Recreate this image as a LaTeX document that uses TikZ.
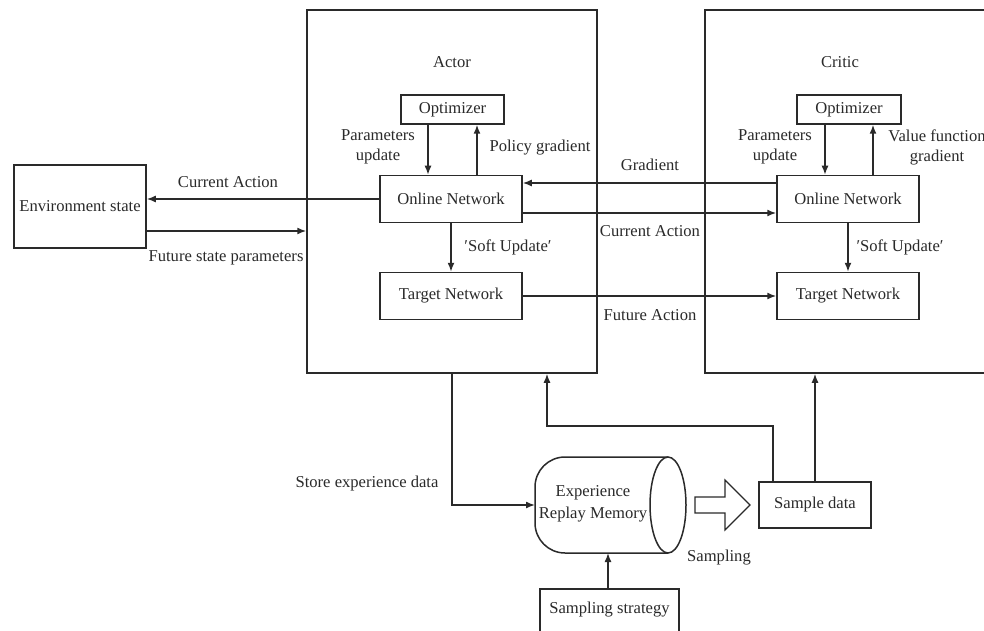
\documentclass[tikz,border=0pt]{standalone}
\usepackage{fontspec}
\setmainfont{Liberation Serif}
\usetikzlibrary{arrows.meta}
\definecolor{ink}{HTML}{2A2A2A}
\tikzset{
  every node/.style={font=\fontsize{16.6}{20}\selectfont, text=ink},
  box/.style={draw=ink, line width=1.5pt, inner sep=0pt},
  lbl/.style={align=center, inner sep=0pt},
  conn/.style={draw=ink, line width=1.5pt},
  arr/.style={conn, -{Latex[length=9pt,width=7pt]}},
}
\begin{document}
\begin{tikzpicture}[x=1pt, y=-1pt]
\useasboundingbox (0,0) rectangle (984,631);
\clip (0,0) rectangle (984,631);
\fill[white] (0,0) rectangle (984,631);

% outer frames
\node[box, minimum width=290pt, minimum height=363pt] (actor) at (452,191.5) {};
\node[box, minimum width=300pt, minimum height=363pt] (critic) at (855,191.5) {};

\node[lbl] at (452,62) {Actor};
\node[lbl] at (840,62) {Critic};

% environment
\node[box, minimum width=132pt, minimum height=83pt] (env) at (80,206.5) {Environment state};

% actor internals
\node[box, minimum width=103pt, minimum height=29pt] (aopt) at (452.5,109.5) {Optimizer};
\node[box, minimum width=142pt, minimum height=47pt] (aon) at (451,199) {Online Network};
\node[box, minimum width=142pt, minimum height=47pt] (atg) at (451,296) {Target Network};

% critic internals
\node[box, minimum width=104pt, minimum height=29pt] (copt) at (849,109.5) {Optimizer};
\node[box, minimum width=142pt, minimum height=47pt] (con) at (848,199) {Online Network};
\node[box, minimum width=142pt, minimum height=47pt] (ctg) at (848,296) {Target Network};

% lower part
\node[box, minimum width=112pt, minimum height=46pt] (sd) at (815,505) {Sample data};
\node[box, minimum width=139pt, minimum height=56pt] (ss) at (609.5,617) {};
\node[lbl] at (609.5,610) {Sampling strategy};

% replay memory drum
\coordinate (memw) at (535,505);
\coordinate (mems) at (608,553);
\draw[conn, rounded corners=30pt] (668,457) -- (535,457) -- (535,553) -- (668,553);
\draw[conn, fill=white] (668,505) ellipse [x radius=18pt, y radius=48pt];
\node[lbl, font=\fontsize{16.6}{22}\selectfont] at (593,504) {Experience\\Replay Memory};

% hollow sampling arrow
\draw[conn, line width=1.2pt, line join=miter] (695,497) -- (725,497) -- (725,480) -- (750,505)
  -- (725,530) -- (725,513) -- (695,513) -- cycle;
\node[lbl] at (719,558) {Sampling};

% environment links
\draw[arr] (aon.west) -- (aon.west -| env.east);
\draw[arr] (env.east |- 0,231) -- (actor.west |- 0,231);
\node[lbl] at (228,182) {Current Action};
\node[lbl] at (226,258) {Future state parameters};

% actor optimizer loop
\draw[arr] (aopt.south -| 428,0) -- (aon.north -| 428,0);
\draw[arr] (aon.north -| 477,0) -- (aopt.south -| 477,0);
\node[lbl] at (378,147) {Parameters\\update};
\node[lbl] at (540,148) {Policy gradient};
\draw[arr] (aon.south) -- (atg.north);
\node[lbl] at (508,247) {′Soft Update′};

% critic optimizer loop
\draw[arr] (copt.south -| 825,0) -- (con.north -| 825,0);
\draw[arr] (con.north -| 873,0) -- (copt.south -| 873,0);
\node[lbl] at (775,147) {Parameters\\update};
\node[lbl] at (937,147) {Value function\\gradient};
\draw[arr] (con.south) -- (ctg.north);
\node[lbl] at (900,247) {′Soft Update′};

% actor <-> critic
\draw[arr] (con.west |- 0,183) -- (aon.east |- 0,183);
\draw[arr] (aon.east |- 0,213) -- (con.west |- 0,213);
\draw[arr] (atg.east) -- (ctg.west);
\node[lbl] at (650,165) {Gradient};
\node[lbl] at (650,231) {Current Action};
\node[lbl] at (650,315) {Future Action};

% experience flow
\draw[arr] (actor.south -| 452,0) |- (memw);
\node[lbl] at (367,484) {Store experience data};
\draw[arr] (sd.north -| 773,0) -- (773,426) -| (actor.south -| 547,0);
\draw[arr] (sd.north) -- (critic.south -| sd.north);
\draw[arr] (ss.north -| mems) -- (mems);
\end{tikzpicture}
\end{document}
